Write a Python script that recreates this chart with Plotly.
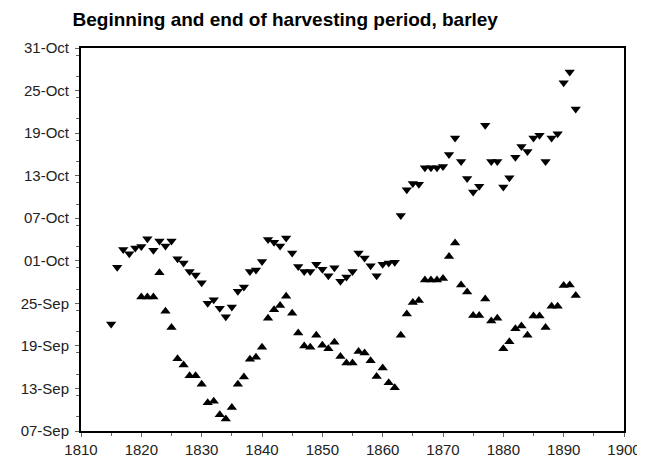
import pandas as pd
import plotly.graph_objects as go

# days after 07-Sep
end_years = list(range(1815, 1893))
end_days = [15.1, 23.1, 25.6, 25.0, 25.8, 26.0, 27.1, 25.5, 26.8, 26.1,
            26.8, 24.3, 23.7, 22.5, 22.0, 20.9, 18.0, 18.5, 17.3, 16.1,
            17.5, 19.7, 20.3, 22.5, 22.7, 23.9, 27.0, 26.6, 26.1, 27.2,
            25.1, 23.2, 22.5, 22.5, 23.5, 22.8, 21.9, 23.0, 21.1, 21.7,
            22.5, 25.1, 24.4, 23.3, 21.9, 23.5, 23.7, 23.8, 30.4, 34.0,
            34.9, 34.8, 37.1, 37.1, 37.1, 37.3, 39.0, 41.3, 38.0, 35.6,
            33.7, 34.5, 43.1, 38.0, 38.0, 34.4, 35.7, 38.6, 40.1, 39.4,
            41.3, 41.7, 38.0, 41.3, 41.9, 49.1, 50.6, 45.4]

begin_years = list(range(1820, 1893))
begin_days = [18.9, 18.9, 18.9, 22.3, 16.9, 14.6, 10.2, 9.3, 7.8, 7.8,
              6.6, 4.0, 4.2, 2.3, 1.7, 3.3, 6.6, 7.6, 10.1, 10.4,
              11.8, 15.9, 17.1, 17.7, 19.0, 16.6, 13.8, 12.0, 11.8, 13.5,
              12.1, 11.6, 12.5, 10.5, 9.6, 9.6, 11.2, 11.0, 9.9, 7.7,
              8.9, 6.8, 6.1, 13.5, 16.5, 18.1, 18.4, 21.3, 21.3, 21.3,
              21.5, 24.6, 26.5, 20.6, 19.6, 16.3, 16.3, 18.6, 15.5, 15.9,
              11.6, 12.6, 14.4, 14.8, 13.5, 16.2, 16.2, 14.6, 17.6, 17.6,
              20.5, 20.6, 19.1]

base = pd.Timestamp("1900-09-07")
end_dates = [base + pd.Timedelta(days=d) for d in end_days]
begin_dates = [base + pd.Timedelta(days=d) for d in begin_days]

fig = go.Figure()
fig.add_trace(go.Scatter(x=end_years, y=end_dates, mode="markers", name="end",
                         marker=dict(symbol="triangle-down", size=9, color="black")))
fig.add_trace(go.Scatter(x=begin_years, y=begin_dates, mode="markers", name="beginning",
                         marker=dict(symbol="triangle-up", size=9, color="black")))

fig.update_layout(
    width=645, height=462,
    margin=dict(l=73, r=29, t=40, b=31),
    plot_bgcolor="white", paper_bgcolor="white",
    showlegend=False,
    font=dict(family="Liberation Sans", size=15, color="#222"),
    title=dict(text="<b>Beginning and end of harvesting period, barley</b>",
               font=dict(size=19, color="black"),
               xref="container", x=0.1, xanchor="left",
               yref="container", y=0.99, yanchor="top"),
)
fig.update_xaxes(range=[1810, 1900], dtick=10, showgrid=False, zeroline=False,
                 showline=True, linewidth=2, linecolor="black", mirror=True,
                 ticks="outside", ticklen=4, tickcolor="#666",
                 minor=dict(dtick=5, ticks="outside", ticklen=3, tickcolor="#666"))
fig.update_yaxes(type="date", range=["1900-09-07", "1900-10-31"],
                 tick0="1900-09-07", dtick=6 * 86400000, tickformat="%d-%b",
                 showgrid=False, zeroline=False, ticklabelstandoff=3,
                 showline=True, linewidth=2, linecolor="black", mirror=True,
                 ticks="outside", ticklen=4, tickcolor="#666",
                 minor=dict(dtick=3 * 86400000, ticks="outside", ticklen=3, tickcolor="#666"))

fig.write_html("out.html")
